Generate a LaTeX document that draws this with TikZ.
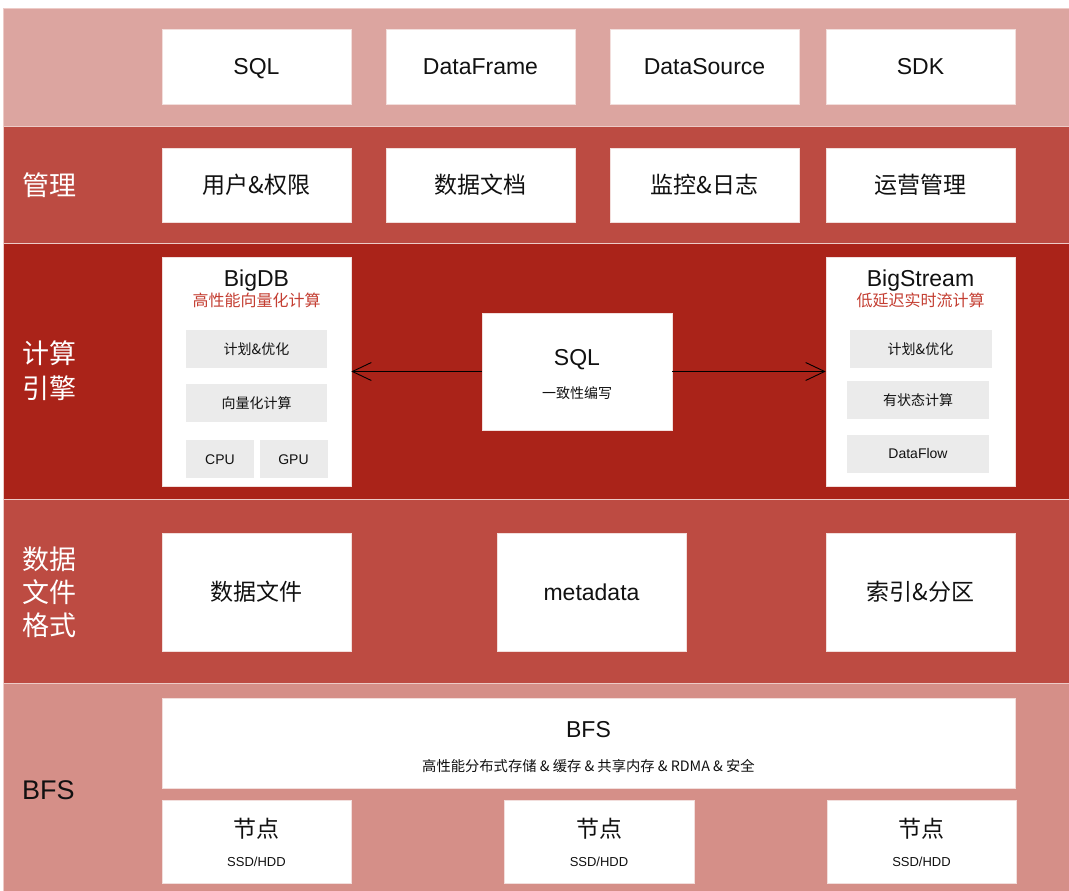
\documentclass[tikz,border=0pt]{standalone}
\usepackage{fontspec}
\setmainfont{Liberation Sans}
\newfontfamily\cjk{Noto Sans CJK SC}
\usetikzlibrary{arrows.meta}

\definecolor{bandApi}{HTML}{DCA5A0}
\definecolor{bandMgmt}{HTML}{BC4B42}
\definecolor{bandEngine}{HTML}{AA2319}
\definecolor{bandFormat}{HTML}{BD4B42}
\definecolor{bandStore}{HTML}{D58F88}
\definecolor{bandEdge}{HTML}{EDCBC7}
\definecolor{cardEdge}{HTML}{F2DEDC}
\definecolor{innerGray}{HTML}{EBEBEB}
\definecolor{subRed}{HTML}{C43E32}
\definecolor{ink}{HTML}{111111}

\tikzset{
  even/.style={text height=#1, text depth=0pt},
  band/.style={draw=bandEdge, line width=0.8pt},
  card/.style={draw=cardEdge, fill=white, line width=0.6pt, inner sep=0pt, even=16.5pt,
               text=ink, font=\fontsize{23}{26}\selectfont},
  inner/.style={fill=innerGray, inner sep=0pt, text=ink, even=10pt,
                font=\cjk\fontsize{14}{16}\selectfont},
  side/.style={anchor=west, text=white, align=left, inner sep=0pt,
               font=\cjk\fontsize{27}{34}\selectfont},
  title/.style={text=ink, inner sep=0pt, even=16.5pt, font=\fontsize{23}{26}\selectfont},
  caption/.style={text=ink, inner sep=0pt, even=10.3pt, font=\cjk\fontsize{14.3}{16}\selectfont},
  subtitle/.style={text=subRed, inner sep=0pt, even=11.5pt, font=\cjk\fontsize{16}{18}\selectfont},
  link/.style={draw=black, line width=0.9pt, -{Straight Barb[length=19pt,width=18pt]}}
}

\begin{document}
\begin{tikzpicture}[x=1pt,y=-1pt]
\useasboundingbox (0,0) rectangle (1069,891);
\fill[white] (0,0) rectangle (1069,891);

% layer bands
\filldraw[band, fill=bandApi]    (3,8)   rectangle (1069,126);
\filldraw[band, fill=bandMgmt]   (3,126) rectangle (1069,243);
\filldraw[band, fill=bandEngine] (3,243) rectangle (1069,499);
\filldraw[band, fill=bandFormat] (3,499) rectangle (1069,683);
\filldraw[band, fill=bandStore]  (3,683) rectangle (1069,891);

% layer names
\node[side] (lblMgmt) at (22,185) {管理};
\node[side, font=\cjk\fontsize{27}{35}\selectfont] (lblEngine) at (22,371) {计算\\引擎};
\node[side, font=\cjk\fontsize{27}{33}\selectfont] (lblFormat) at (22,592) {数据\\文件\\格式};
\node[side, text=ink, font=\fontsize{27}{30}\selectfont] (lblBfs) at (22,790) {BFS};

% API layer
\node[card, minimum width=189, minimum height=75] (apiSql) at (256.5,66.5) {SQL};
\node[card, minimum width=189, minimum height=75] (apiDf)  at (480.5,66.5) {DataFrame};
\node[card, minimum width=189, minimum height=75] (apiDs)  at (704.5,66.5) {DataSource};
\node[card, minimum width=189, minimum height=75] (apiSdk) at (920.5,66.5) {SDK};

% management layer
\node[card, font=\cjk\fontsize{23}{26}\selectfont, minimum width=189, minimum height=74] (mUser) at (256.5,185) {用户\&权限};
\node[card, font=\cjk\fontsize{23}{26}\selectfont, minimum width=189, minimum height=74] (mDoc)  at (480.5,185) {数据文档};
\node[card, font=\cjk\fontsize{23}{26}\selectfont, minimum width=189, minimum height=74] (mMon)  at (704.5,185) {监控\&日志};
\node[card, font=\cjk\fontsize{23}{26}\selectfont, minimum width=189, minimum height=74] (mOps)  at (920.5,185) {运营管理};

% compute engines
\node[card, minimum width=189, minimum height=229] (bigdb) at (256.5,371.5) {};
\node[title] (bigdbT) at (256.5,278) {BigDB};
\node[subtitle] (bigdbS) at (256.5,301) {高性能向量化计算};
\node[inner, minimum width=141, minimum height=38] (dbPlan) at (256.5,349) {计划\&优化};
\node[inner, minimum width=141, minimum height=38] (dbVec)  at (256.5,403) {向量化计算};
\node[inner, font=\fontsize{14}{16}\selectfont, minimum width=68, minimum height=38] (dbCpu) at (220,459) {CPU};
\node[inner, font=\fontsize{14}{16}\selectfont, minimum width=68, minimum height=38] (dbGpu) at (293.5,459) {GPU};

\node[card, minimum width=189, minimum height=229] (bigstream) at (920.5,371.5) {};
\node[title] (bsT) at (920.5,278) {BigStream};
\node[subtitle] (bsS) at (920.5,301) {低延迟实时流计算};
\node[inner, minimum width=142, minimum height=38] (bsPlan)  at (920.5,349) {计划\&优化};
\node[inner, minimum width=142, minimum height=38] (bsState) at (918,400) {有状态计算};
\node[inner, font=\fontsize{14}{16}\selectfont, minimum width=142, minimum height=38] (bsFlow) at (918,453.5) {DataFlow};

\node[card, minimum width=190, minimum height=117] (sqlMid) at (577,371.5) {};
\node[title] (sqlMidT) at (577,357) {SQL};
\node[caption, even=10pt, font=\cjk\fontsize{14}{16}\selectfont] (sqlMidS) at (577,393) {一致性编写};

\draw[link] (sqlMid.west) -- (bigdb.east);
\draw[link] (sqlMid.east) -- (bigstream.west);

% data file format layer
\node[card, font=\cjk\fontsize{23}{26}\selectfont, minimum width=189, minimum height=118] (fData) at (256.5,592) {数据文件};
\node[card, minimum width=189, minimum height=118] (fMeta) at (591.5,592) {metadata};
\node[card, font=\cjk\fontsize{23}{26}\selectfont, minimum width=189, minimum height=118] (fIdx)  at (920.5,592) {索引\&分区};

% storage layer
\node[card, minimum width=853, minimum height=90] (bfs) at (588.5,743) {};
\node[title] (bfsT) at (588.5,729) {BFS};
\node[caption] (bfsS) at (588.5,766) {高性能分布式存储 \& 缓存 \& 共享内存 \& RDMA \& 安全};

\node[card, minimum width=189, minimum height=83] (n1) at (256.5,841.5) {};
\node[card, minimum width=190, minimum height=83] (n2) at (599,841.5) {};
\node[card, minimum width=189, minimum height=83] (n3) at (921.5,841.5) {};
\foreach \n/\x in {n1/256.5, n2/599, n3/921.5}{
  \node[title, font=\cjk\fontsize{23}{26}\selectfont] (\n T) at (\x,829) {节点};
  \node[caption, even=9.4pt, font=\fontsize{13}{15}\selectfont] (\n S) at (\x,862) {SSD/HDD};
}
\end{tikzpicture}
\end{document}
